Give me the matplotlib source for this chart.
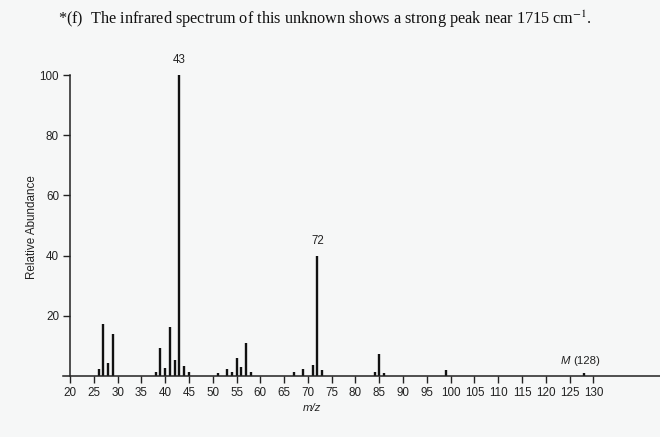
import matplotlib
matplotlib.use("Agg")
import matplotlib.pyplot as plt

# mass spectrum peaks (m/z, relative abundance %)
mz = [26, 27, 28, 29, 38, 39, 40, 41, 42, 43, 44, 45,
      51, 53, 54, 55, 56, 57, 58, 67, 69, 71, 72, 73,
      84, 85, 86, 99, 128]
abundance = [2.2, 17.3, 4.2, 14.0, 1.3, 9.4, 2.6, 16.2, 5.3, 100.0, 3.3, 1.3,
             0.9, 2.4, 1.2, 5.9, 3.1, 10.9, 1.2, 1.3, 2.2, 3.8, 40.0, 2.1,
             1.2, 7.3, 1.1, 2.1, 1.1]

x_ticks = list(range(20, 131, 5))
y_ticks = [20, 40, 60, 80, 100]
labelled = {43: "43", 72: "72"}

title = r"*(f)  The infrared spectrum of this unknown shows a strong peak near 1715 cm$^{-1}$."

plt.rcParams["mathtext.fontset"] = "stix"
bg = "#f6f7f7"
ink = "#222222"
sans = "Liberation Sans"

fig = plt.figure(figsize=(6.6, 4.37), dpi=100, facecolor=bg)
ax = fig.add_axes([70 / 660, 1 - 376 / 437, 1 - 70 / 660, 301 / 437])
ax.set_facecolor(bg)

ax.vlines(mz, 0, abundance, colors="#111111", linewidth=1.7)

for m, a in zip(mz, abundance):
    if m in labelled:
        ax.text(m, a + 3, labelled[m], ha="center", va="bottom",
                fontsize=8.3, family=sans, color=ink)

ax.text(128.6, 3.2, "(128)", ha="center", va="bottom", fontsize=8.2,
        family=sans, color=ink)
ax.text(125.2, 3.2, "M", ha="right", va="bottom", fontsize=8.2, style="italic",
        family=sans, color=ink)

ax.set_xlim(20, 144)
ax.set_ylim(0, 100)
ax.set_xticks(x_ticks)
ax.set_yticks(y_ticks)
for lbl in ax.get_xticklabels() + ax.get_yticklabels():
    lbl.set_family(sans)
    lbl.set_fontsize(8.4)
    lbl.set_color(ink)
ax.tick_params(direction="out", length=5, width=1, colors=ink, pad=3)

for side in ("top", "right"):
    ax.spines[side].set_visible(False)
for side in ("left", "bottom"):
    ax.spines[side].set_linewidth(1.1)
    ax.spines[side].set_color(ink)
ax.spines["bottom"].set_bounds(18.5, 144)

fig.text(32 / 660, 1 - 227 / 437, "Relative Abundance", rotation=90,
         ha="center", va="center", fontsize=8.4, family=sans, color=ink)
fig.text(312 / 660, 1 - 408 / 437, "m/z", ha="center", va="center",
         fontsize=8.2, style="italic", family=sans, color=ink)
fig.text(58 / 660, 1 - 19 / 437, title, ha="left", va="center",
         fontsize=11.7, family="Liberation Serif", color="#111111")

fig.savefig("out.png", dpi=100, facecolor=bg)
